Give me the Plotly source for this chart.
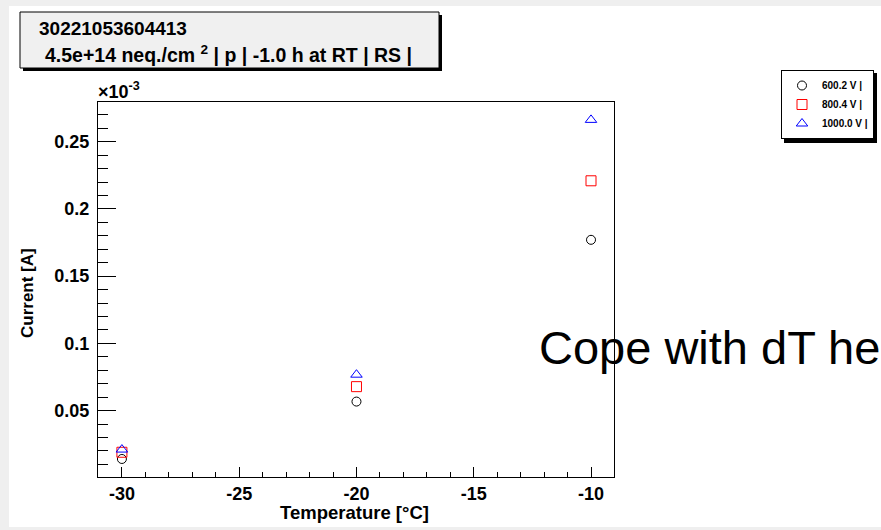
import plotly.graph_objects as go

# ---------------- data ----------------
temperature = [-30, -20, -10]
series_names = ["600.2 V |", "800.4 V |", "1000.0 V |"]
current_600 = [0.0140, 0.0567, 0.1770]   # x 1e-3 A
current_800 = [0.0190, 0.0678, 0.2209]
current_1000 = [0.0210, 0.0767, 0.2662]
x_ticks = [-30, -25, -20, -15, -10]
x_tick_labels = ["-30", "-25", "-20", "-15", "-10"]
y_ticks = [0.05, 0.1, 0.15, 0.2, 0.25]
y_tick_labels = ["0.05", "0.1", "0.15", "0.2", "0.25"]
title_line1 = "30221053604413"
title_line2 = "4.5e+14 neq./cm <sup>2</sup> | p | -1.0 h at RT | RS |"
overlay_text = "Cope with dT he"

# ---------------- layout geometry ----------------
W, H = 881, 530
L, R, T, B = 98, 614, 102, 477   # plot-area frame in pixels
PW = W - L                        # paper width (right margin = 0)


def px(xp):
    return (xp - L) / PW


def py(yp):
    return (B - yp) / (B - T)


FONT = "Liberation Sans"

fig = go.Figure()
styles = [
    dict(symbol="circle-open", color="black", size=9),
    dict(symbol="square-open", color="red", size=10),
    dict(symbol="triangle-up-open", color="blue", size=10),
]
for name, ys, st in zip(series_names, [current_600, current_800, current_1000], styles):
    fig.add_trace(go.Scatter(
        x=temperature, y=ys, mode="markers", name=name,
        marker=dict(symbol=st["symbol"], size=st["size"], color=st["color"],
                    line=dict(color=st["color"], width=1)),
    ))

axis_common = dict(
    showline=True, linecolor="black", linewidth=1, mirror=True,
    ticks="inside", tickcolor="black", tickwidth=1,
    showgrid=False, zeroline=False,
    tickfont=dict(family=FONT, size=18, color="black", weight="bold"),
)

fig.update_xaxes(
    domain=[0, px(R)],
    range=[-31.02, -9.02], tickmode="array", tickvals=x_ticks, ticktext=x_tick_labels,
    ticklen=10, ticklabelstandoff=0,
    minor=dict(dtick=1, ticklen=5, ticks="inside", tickcolor="black", tickwidth=1),
    **axis_common,
)
fig.update_yaxes(
    range=[0.0006, 0.2795], tickmode="array", tickvals=y_ticks, ticktext=y_tick_labels,
    ticklen=18, ticklabelstandoff=4,
    minor=dict(dtick=0.01, ticklen=10, ticks="inside", tickcolor="black", tickwidth=1),
    **axis_common,
)

LEG_L, LEG_W, LEG_T, LEG_H = 781, 93, 70, 70

shapes = [
    # grey page frame
    dict(type="rect", xref="paper", yref="paper", x0=px(0), x1=px(W), y0=py(0), y1=py(6),
         fillcolor="#efefef", line_width=0, layer="below"),
    dict(type="rect", xref="paper", yref="paper", x0=px(0), x1=px(9), y0=py(0), y1=py(H),
         fillcolor="#efefef", line_width=0, layer="below"),
    dict(type="rect", xref="paper", yref="paper", x0=px(0), x1=px(W), y0=py(527), y1=py(H),
         fillcolor="#efefef", line_width=0, layer="below"),
    # title box shadow + box
    dict(type="rect", xref="paper", yref="paper", x0=px(23), x1=px(442), y0=py(71), y1=py(15),
         fillcolor="black", line_width=0, layer="above"),
    dict(type="rect", xref="paper", yref="paper", x0=px(20), x1=px(439), y0=py(68), y1=py(12),
         fillcolor="#f0f0f0", line=dict(color="black", width=1), layer="above"),
    # legend shadow
    dict(type="rect", xref="paper", yref="paper", x0=px(LEG_L + 3), x1=px(LEG_L + LEG_W + 3),
         y0=py(LEG_T + LEG_H + 3), y1=py(LEG_T + 3),
         fillcolor="black", line_width=0, layer="above"),
]

annotations = [
    dict(text=title_line1, x=px(37), y=py(29), xref="paper", yref="paper",
         xanchor="left", yanchor="middle", showarrow=False,
         font=dict(family=FONT, size=19, color="black", weight="bold")),
    dict(text=title_line2, x=px(43), y=py(54), xref="paper", yref="paper",
         xanchor="left", yanchor="middle", showarrow=False,
         font=dict(family=FONT, size=19.5, color="black", weight="bold")),
    dict(text="×10<sup>-3</sup>", x=px(96), y=py(104), xref="paper", yref="paper",
         xanchor="left", yanchor="bottom", showarrow=False,
         font=dict(family=FONT, size=18, color="black", weight="bold")),
    dict(text="Temperature [°C]", x=px(354), y=py(512), xref="paper", yref="paper",
         xanchor="center", yanchor="middle", showarrow=False,
         font=dict(family=FONT, size=18.5, color="black", weight="bold")),
    dict(text="Current [A]", x=px(27), y=py(293), xref="paper", yref="paper",
         xanchor="center", yanchor="middle", showarrow=False, textangle=-90,
         font=dict(family=FONT, size=17, color="black", weight="bold")),
    dict(text=overlay_text, x=px(537), y=py(347), xref="paper", yref="paper",
         xanchor="left", yanchor="middle", showarrow=False,
         font=dict(family=FONT, size=47, color="black")),
]

fig.update_layout(
    width=W, height=H,
    margin=dict(l=L, r=0, t=T, b=H - B, pad=0),
    paper_bgcolor="white", plot_bgcolor="white",
    showlegend=True,
    legend=dict(
        x=px(LEG_L), y=py(LEG_T), xanchor="left", yanchor="top",
        bgcolor="white", bordercolor="black", borderwidth=1,
        font=dict(family=FONT, size=10, color="black", weight="bold"),
        itemwidth=30, tracegroupgap=0,
    ),
    shapes=shapes,
    annotations=annotations,
)

fig.write_html("out.html")
